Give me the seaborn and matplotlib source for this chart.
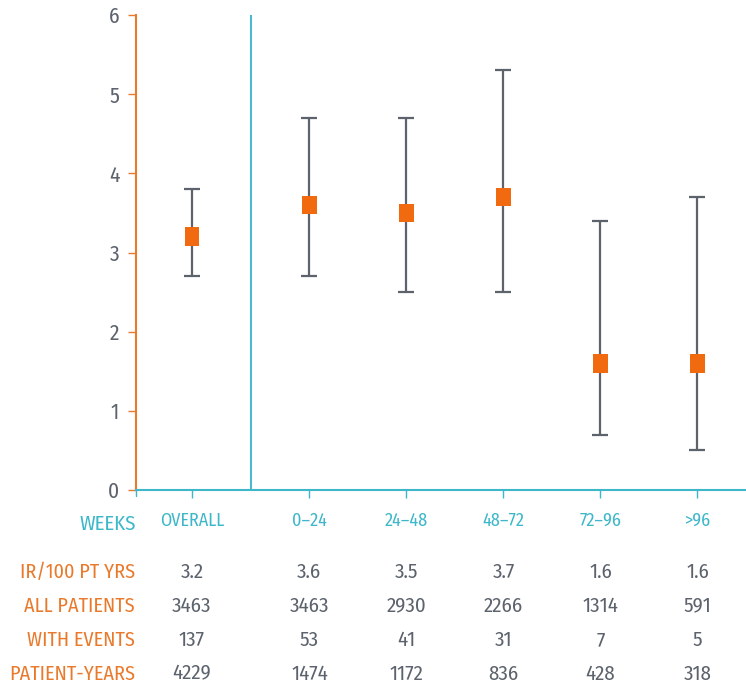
import numpy as np
import pandas as pd
import matplotlib
matplotlib.use('Agg')
import matplotlib.pyplot as plt
import seaborn as sns

# data
weeks = ['OVERALL', '0\u201324', '24\u201348', '48\u201372', '72\u201396', '>96']
ir = [3.2, 3.6, 3.5, 3.7, 1.6, 1.6]
ci_low = [2.7, 2.7, 2.5, 2.5, 0.7, 0.5]
ci_high = [3.8, 4.7, 4.7, 5.3, 3.4, 3.7]
ir_text = ['3.2', '3.6', '3.5', '3.7', '1.6', '1.6']
all_patients = [3463, 3463, 2930, 2266, 1314, 591]
with_events = [137, 53, 41, 31, 7, 5]
patient_years = [4229, 1474, 1172, 836, 428, 318]
row_labels = ['IR/100 PT YRS', 'ALL PATIENTS', 'WITH EVENTS', 'PATIENT-YEARS']

ORANGE = '#E97A2C'
MARK = '#F26A0F'
TEAL = '#3DB7C9'
GREY = '#5C636D'

sns.set_style('white')
plt.rcParams['font.family'] = ['Fira Sans Condensed', 'DejaVu Sans']

xpos = [0, 1.21, 2.21, 3.21, 4.21, 5.21]
df = pd.DataFrame({'x': xpos, 'ir': ir, 'lo': ci_low, 'hi': ci_high})

fig = plt.figure(figsize=(7.46, 6.88), dpi=100)
ax = fig.add_axes([136 / 746, 1 - 490 / 688, 1 - 136 / 746, 475 / 688])

ax.errorbar(df['x'], df['ir'], yerr=[df['ir'] - df['lo'], df['hi'] - df['ir']],
            fmt='none', ecolor=GREY, elinewidth=1.6, capsize=6, capthick=1.6, zorder=2)
rect = [(-0.78, -1), (0.78, -1), (0.78, 1), (-0.78, 1), (-0.78, -1)]
sns.scatterplot(data=df, x='x', y='ir', marker=rect, s=175, color=MARK,
                edgecolor='none', ax=ax, zorder=3, legend=False)

ax.axvline(0.61, color='#4BB9D2', lw=1.5, ymax=1.0)

ax.set_xlim(-0.577, 5.71)
ax.set_ylim(0, 6)
ax.set_xlabel('')
ax.set_ylabel('')
sns.despine(ax=ax, top=True, right=True)
ax.spines['left'].set_color(ORANGE)
ax.spines['left'].set_linewidth(1.5)
ax.spines['bottom'].set_color(TEAL)
ax.spines['bottom'].set_linewidth(1.5)

ax.set_yticks(range(7))
ax.tick_params(axis='y', colors=ORANGE, labelcolor=GREY, length=6, width=1,
               labelsize=15.5, pad=6, left=True)
ax.set_xticks(xpos)
ax.set_xticklabels(weeks)
ax.tick_params(axis='x', colors=TEAL, labelcolor=TEAL, length=6, width=1,
               labelsize=13, pad=10, bottom=True)

# WEEKS label at the left end of the axis
ax.annotate('WEEKS', xy=(-0.577, 0), xycoords='data', xytext=(0, -32),
            textcoords='offset points', ha='right', va='bottom',
            color=TEAL, fontsize=15, annotation_clip=False)
ax.plot([-0.577, -0.577], [0, -0.08], color=TEAL, lw=1, clip_on=False)

# table under the chart
rows = [ir_text, all_patients, with_events, patient_years]
row_y = [572, 606, 640, 674]
for lab, vals, yy in zip(row_labels, rows, row_y):
    fy = 1 - yy / 688
    fig.text(135 / 746, fy, lab, ha='right', va='center', color=ORANGE, fontsize=14.5)
    for x, v in zip(xpos, vals):
        fx = ax.transData.transform((x, 0))[0] / fig.bbox.width
        fig.text(fx, fy, str(v), ha='center', va='center', color=GREY, fontsize=15)

fig.savefig('out.png', dpi=100)
